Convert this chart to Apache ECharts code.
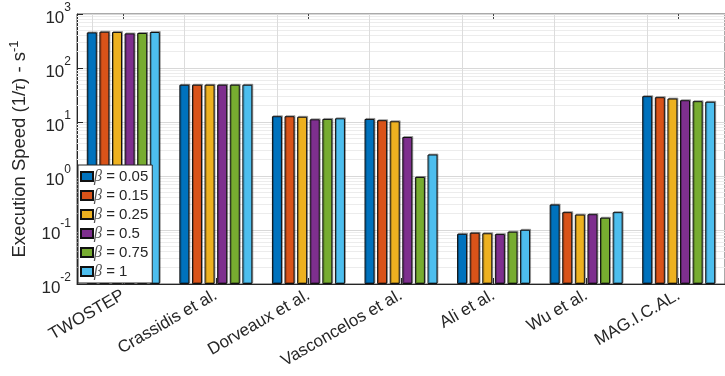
<!DOCTYPE html>
<html><head><meta charset="utf-8">
<script src="https://cdn.jsdelivr.net/npm/echarts@6/dist/echarts.min.js"></script>
<style>html,body{margin:0;padding:0;background:#fff}#c{width:725px;height:376px}</style>
</head><body><div id="c"></div>
<script>
const categories = ['TWOSTEP','Crassidis et al.','Dorveaux et al.','Vasconcelos et al.','Ali et al.','Wu et al.','MAG.I.C.AL.'];
const seriesNames = ['β = 0.05','β = 0.15','β = 0.25','β = 0.5','β = 0.75','β = 1'];
const b005 = [456, 49, 12.8, 11.4, 0.085, 0.296, 30.1];
const b015 = [470, 49, 12.8, 10.8, 0.089, 0.214, 28.8];
const b025 = [465, 49, 12.5, 10.3, 0.087, 0.193, 27.2];
const b05  = [437, 49, 11.2, 5.27, 0.084, 0.196, 25.3];
const b075 = [445, 49, 11.4, 0.96, 0.093, 0.169, 24.3];
const b1   = [464, 49, 11.7, 2.5, 0.101, 0.214, 23.7];
const seriesValues = [b005, b015, b025, b05, b075, b1];
const colors = ['#0072BD','#D95319','#EDB120','#7E2F8E','#77AC30','#4DBEEE'];
const decades = [0.01, 0.1, 1, 10, 100, 1000];
const minorSteps = [2,3,4,5,6,7,8,9];

const minorVals = [];
decades.slice(0, -1).forEach(d => minorSteps.forEach(m => minorVals.push(+(d*m).toPrecision(3))));

const txt = '#262626';
const series = seriesValues.map((vals, i) => ({
  name: seriesNames[i], type: 'bar', data: vals,
  barWidth: 10, barGap: '26%', z: 3,
  itemStyle: { color: colors[i], borderColor: '#111', borderWidth: 1,
    shadowColor: 'rgba(0,0,0,0.3)', shadowOffsetX: 1, shadowOffsetY: -1, shadowBlur: 0 }
}));
series[0].markLine = {
  silent: true, symbol: ['none','none'], z: 1, animation: false,
  label: { show: false },
  data: [
    ...minorVals.map(v => ({ yAxis: v, lineStyle: { color: '#ececec', width: 1, type: 'solid' } })),
    ...categories.map(c => ({ xAxis: c, lineStyle: { color: '#dcdcdc', width: 1, type: 'solid' } }))
  ]
};

const chart = echarts.init(document.getElementById('c'), null, { renderer: 'canvas' });
chart.setOption({
  animation: false,
  textStyle: { fontFamily: 'Liberation Sans, Arial, sans-serif', color: txt },
  grid: { left: 72, top: 14, right: -7, bottom: 92, show: true, borderColor: '#555', borderWidth: 1 },
  legend: {
    orient: 'vertical', left: 78, top: 165, icon: 'rect', itemWidth: 12, itemHeight: 9,
    itemGap: 2, backgroundColor: '#fff', borderColor: '#262626', borderWidth: 1,
    padding: [3, 4, 3, 2],
    formatter: n => '{i|β}' + n.slice(1),
    textStyle: { fontSize: 15, color: txt, lineHeight: 17, padding: [0,0,0,-4],
      rich: { i: { fontFamily: 'Liberation Serif', fontStyle: 'italic', fontSize: 16, color: '#555' } } }
  },
  xAxis: [{
    type: 'category', data: categories,
    axisLine: { lineStyle: { color: txt, width: 1 } },
    axisTick: { show: true, alignWithLabel: true, inside: true, length: 6, lineStyle: { color: txt } },
    axisLabel: { rotate: 30, fontSize: 17, color: txt, margin: 10, interval: 0 },
    splitLine: { show: false }
  }, {
    type: 'category', data: categories, position: 'top',
    axisLine: { show: false },
    axisTick: { show: true, alignWithLabel: true, inside: true, length: 6, lineStyle: { color: '#444' } },
    axisLabel: { show: false }, splitLine: { show: false }
  }],
  yAxis: {
    type: 'log', logBase: 10, min: 0.01, max: 1000, startValue: 0.01,
    name: '{r|Execution Speed (1/}{t|τ}{r|) - s}{s|-1}',
    nameLocation: 'middle', nameGap: 45,
    nameTextStyle: { rich: {
      r: { fontSize: 18.5, color: txt },
      t: { fontSize: 19.5, fontFamily: 'Liberation Serif', fontStyle: 'italic', color: txt },
      s: { fontSize: 13, color: txt, verticalAlign: 'bottom', padding: [0,0,11,0] }
    } },
    axisLine: { show: true, lineStyle: { color: txt } },
    axisTick: { show: true, inside: true, length: 6, lineStyle: { color: txt } },
    minorTick: { show: false },
    splitLine: { show: true, lineStyle: { color: '#d8d8d8' } },
    axisLabel: {
      margin: 6, color: txt,
      formatter: v => '{b|10}{s|' + Math.round(Math.log10(v)) + '}',
      rich: {
        b: { fontSize: 17, color: txt, padding: [8,0,0,0] },
        s: { fontSize: 12, color: txt, verticalAlign: 'top', padding: [0,0,0,0] }
      }
    }
  },
  series
});
</script></body></html>
